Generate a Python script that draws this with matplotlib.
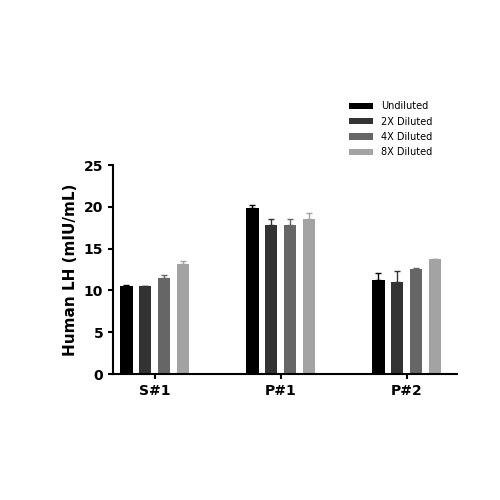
import matplotlib.pyplot as plt
import numpy as np

groups = ["S#1", "P#1", "P#2"]
series = ["Undiluted", "2X Diluted", "4X Diluted", "8X Diluted"]
values = [
    [10.5, 19.9, 11.3],
    [10.5, 17.8, 11.0],
    [11.5, 17.8, 12.6],
    [13.2, 18.6, 13.7],
]
errors = [
    [0.2, 0.3, 0.8],
    [0.0, 0.7, 1.3],
    [0.4, 0.7, 0.1],
    [0.3, 0.7, 0.1],
]
colors = ["#000000", "#333333", "#666666", "#a3a3a3"]

fig = plt.figure(figsize=(5, 5), dpi=100)
ax = fig.add_axes([0.226, 0.252, 0.688, 0.418])

x = np.arange(len(groups))
w = 0.1
step = 0.15
for i, (name, vals, errs, c) in enumerate(zip(series, values, errors, colors)):
    pos = x + (i - 1.5) * step
    ax.bar(pos, vals, width=w, color=c, label=name, zorder=2)
    ax.errorbar(pos, vals, yerr=[np.zeros(3), errs], fmt="none", ecolor=c,
                elinewidth=1, capsize=2.5, capthick=1, zorder=1)

ax.set_xlim(-0.33, 2.4)
ax.set_ylim(0, 25)
ax.set_yticks([0, 5, 10, 15, 20, 25])
ax.set_xticks(x)
ax.set_xticklabels(groups, fontsize=10, fontweight="bold")
ax.tick_params(axis="y", labelsize=10, width=1.5)
ax.tick_params(axis="x", width=1.5)
for lab in ax.get_yticklabels():
    lab.set_fontweight("bold")
ax.set_ylabel("Human LH (mIU/mL)", fontsize=11, fontweight="bold")
for s in ["top", "right"]:
    ax.spines[s].set_visible(False)
for s in ["left", "bottom"]:
    ax.spines[s].set_linewidth(1.5)

fig.legend(loc="upper left", bbox_to_anchor=(0.68, 0.815), frameon=False,
           fontsize=7, handlelength=2.5, handleheight=0.6, labelspacing=0.55)

fig.savefig("out.png", dpi=100)
